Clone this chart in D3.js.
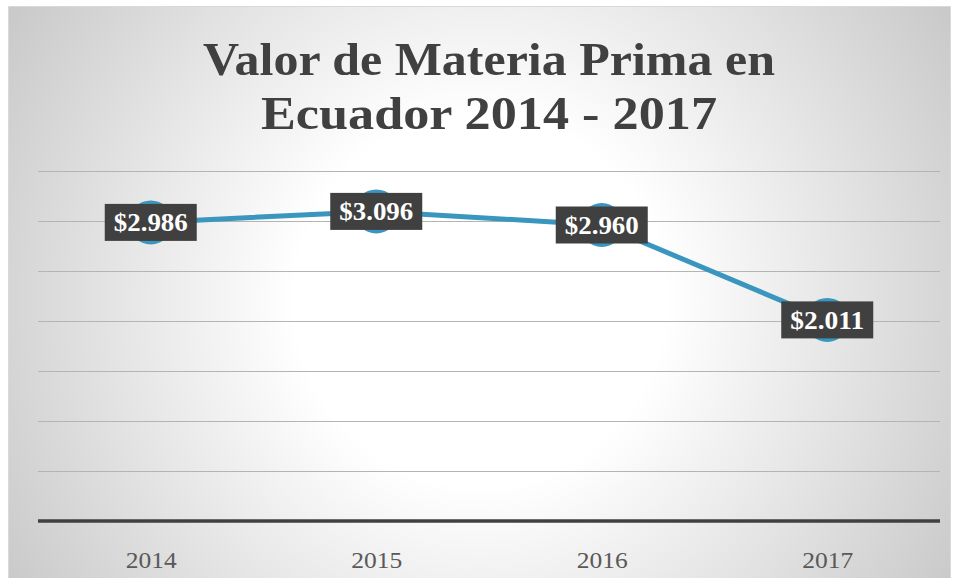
<!DOCTYPE html>
<html lang="es">
<head>
<meta charset="UTF-8">
<title>Valor de Materia Prima en Ecuador</title>
<script src="https://d3js.org/d3.v7.min.js"></script>
<style>
  body { margin: 0; background: #fff; }
</style>
</head>
<body>
<svg id="main" width="956" height="578"></svg>
<script>
// data
const years = ['2014', '2015', '2016', '2017'];
const valores = [2986, 3096, 2960, 2011];
const yTicks = [0, 500, 1000, 1500, 2000, 2500, 3000, 3500];
const titleLines = ['Valor de Materia Prima en', 'Ecuador 2014 - 2017'];
const titleWidths = [572, 456];

const svg = d3.select('svg#main');

// radial background like the excel fill
const defs = svg.append('defs');
const grad = defs.append('radialGradient')
    .attr('id', 'bg')
    .attr('gradientUnits', 'userSpaceOnUse')
    .attr('cx', 480).attr('cy', 300).attr('r', 560);
grad.append('stop').attr('offset', 0).attr('stop-color', '#ffffff');
grad.append('stop').attr('offset', 0.33).attr('stop-color', '#ffffff');
grad.append('stop').attr('offset', 1).attr('stop-color', '#c8c8c8');

svg.append('rect')
    .attr('x', 8.5).attr('y', 6.5)
    .attr('width', 942).attr('height', 580)
    .attr('fill', 'url(#bg)')
    .attr('stroke', '#d9d9d9');

// title
svg.selectAll('text.title')
    .data(titleLines)
    .enter()
    .append('text')
    .attr('class', 'title')
    .attr('x', 489)
    .attr('y', (d, i) => 75 + i * 54)
    .attr('text-anchor', 'middle')
    .attr('textLength', (d, i) => titleWidths[i])
    .attr('lengthAdjust', 'spacingAndGlyphs')
    .style('font-family', '"Liberation Serif", "DejaVu Serif", serif')
    .style('font-weight', 'bold')
    .style('font-size', '47px')
    .style('fill', '#404040')
    .text(d => d);

const x = d3.scalePoint().domain(years).range([38, 940]).padding(0.5);
const y = d3.scaleLinear().domain([0, 3500]).range([521, 171]);

// gridlines
svg.selectAll('line.grid')
    .data(yTicks.slice(1))
    .enter()
    .append('line')
    .attr('class', 'grid')
    .attr('x1', 38).attr('x2', 940)
    .attr('y1', d => Math.round(y(d)) + 0.5)
    .attr('y2', d => Math.round(y(d)) + 0.5)
    .attr('stroke', '#b4b4b4')
    .attr('stroke-width', 1);

// x axis
const xAxis = svg.append('g')
    .attr('transform', 'translate(0,' + y(0) + ')')
    .call(d3.axisBottom(x).tickSize(0).tickPadding(30));
xAxis.select('.domain').remove();
xAxis.append('line')
    .attr('x1', 38).attr('x2', 940)
    .attr('stroke', '#404040').attr('stroke-width', 3.5);
xAxis.selectAll('text')
    .attr('textLength', 51)
    .attr('lengthAdjust', 'spacingAndGlyphs')
    .style('font-family', '"Liberation Serif", "DejaVu Serif", serif')
    .style('font-size', '24px')
    .style('fill', '#595959');

// line
const line = d3.line()
    .x((d, i) => x(years[i]))
    .y(d => y(d));

svg.append('path')
    .datum(valores)
    .attr('d', line)
    .attr('fill', 'none')
    .attr('stroke', '#3a96bf')
    .attr('stroke-width', 5);

svg.selectAll('circle.pt')
    .data(valores)
    .enter()
    .append('circle')
    .attr('class', 'pt')
    .attr('cx', (d, i) => x(years[i]))
    .attr('cy', d => y(d))
    .attr('r', 22)
    .attr('fill', '#3a96bf');

// data labels
const es = d3.formatLocale({decimal: ',', thousands: '.', grouping: [3], currency: ['$', '']});
const fmt = es.format('$,');

const lab = svg.selectAll('g.lab')
    .data(valores)
    .enter()
    .append('g')
    .attr('class', 'lab')
    .attr('transform', (d, i) => 'translate(' + x(years[i]) + ',' + y(d) + ')');
lab.append('rect')
    .attr('x', -46).attr('y', -18.5)
    .attr('width', 92).attr('height', 37)
    .attr('fill', '#404040');
lab.append('text')
    .attr('text-anchor', 'middle')
    .attr('y', 9)
    .attr('textLength', 74)
    .attr('lengthAdjust', 'spacingAndGlyphs')
    .style('font-family', '"Liberation Serif", "DejaVu Serif", serif')
    .style('font-weight', 'bold')
    .style('font-size', '25px')
    .style('fill', '#ffffff')
    .text(d => fmt(d));
</script>
</body>
</html>
